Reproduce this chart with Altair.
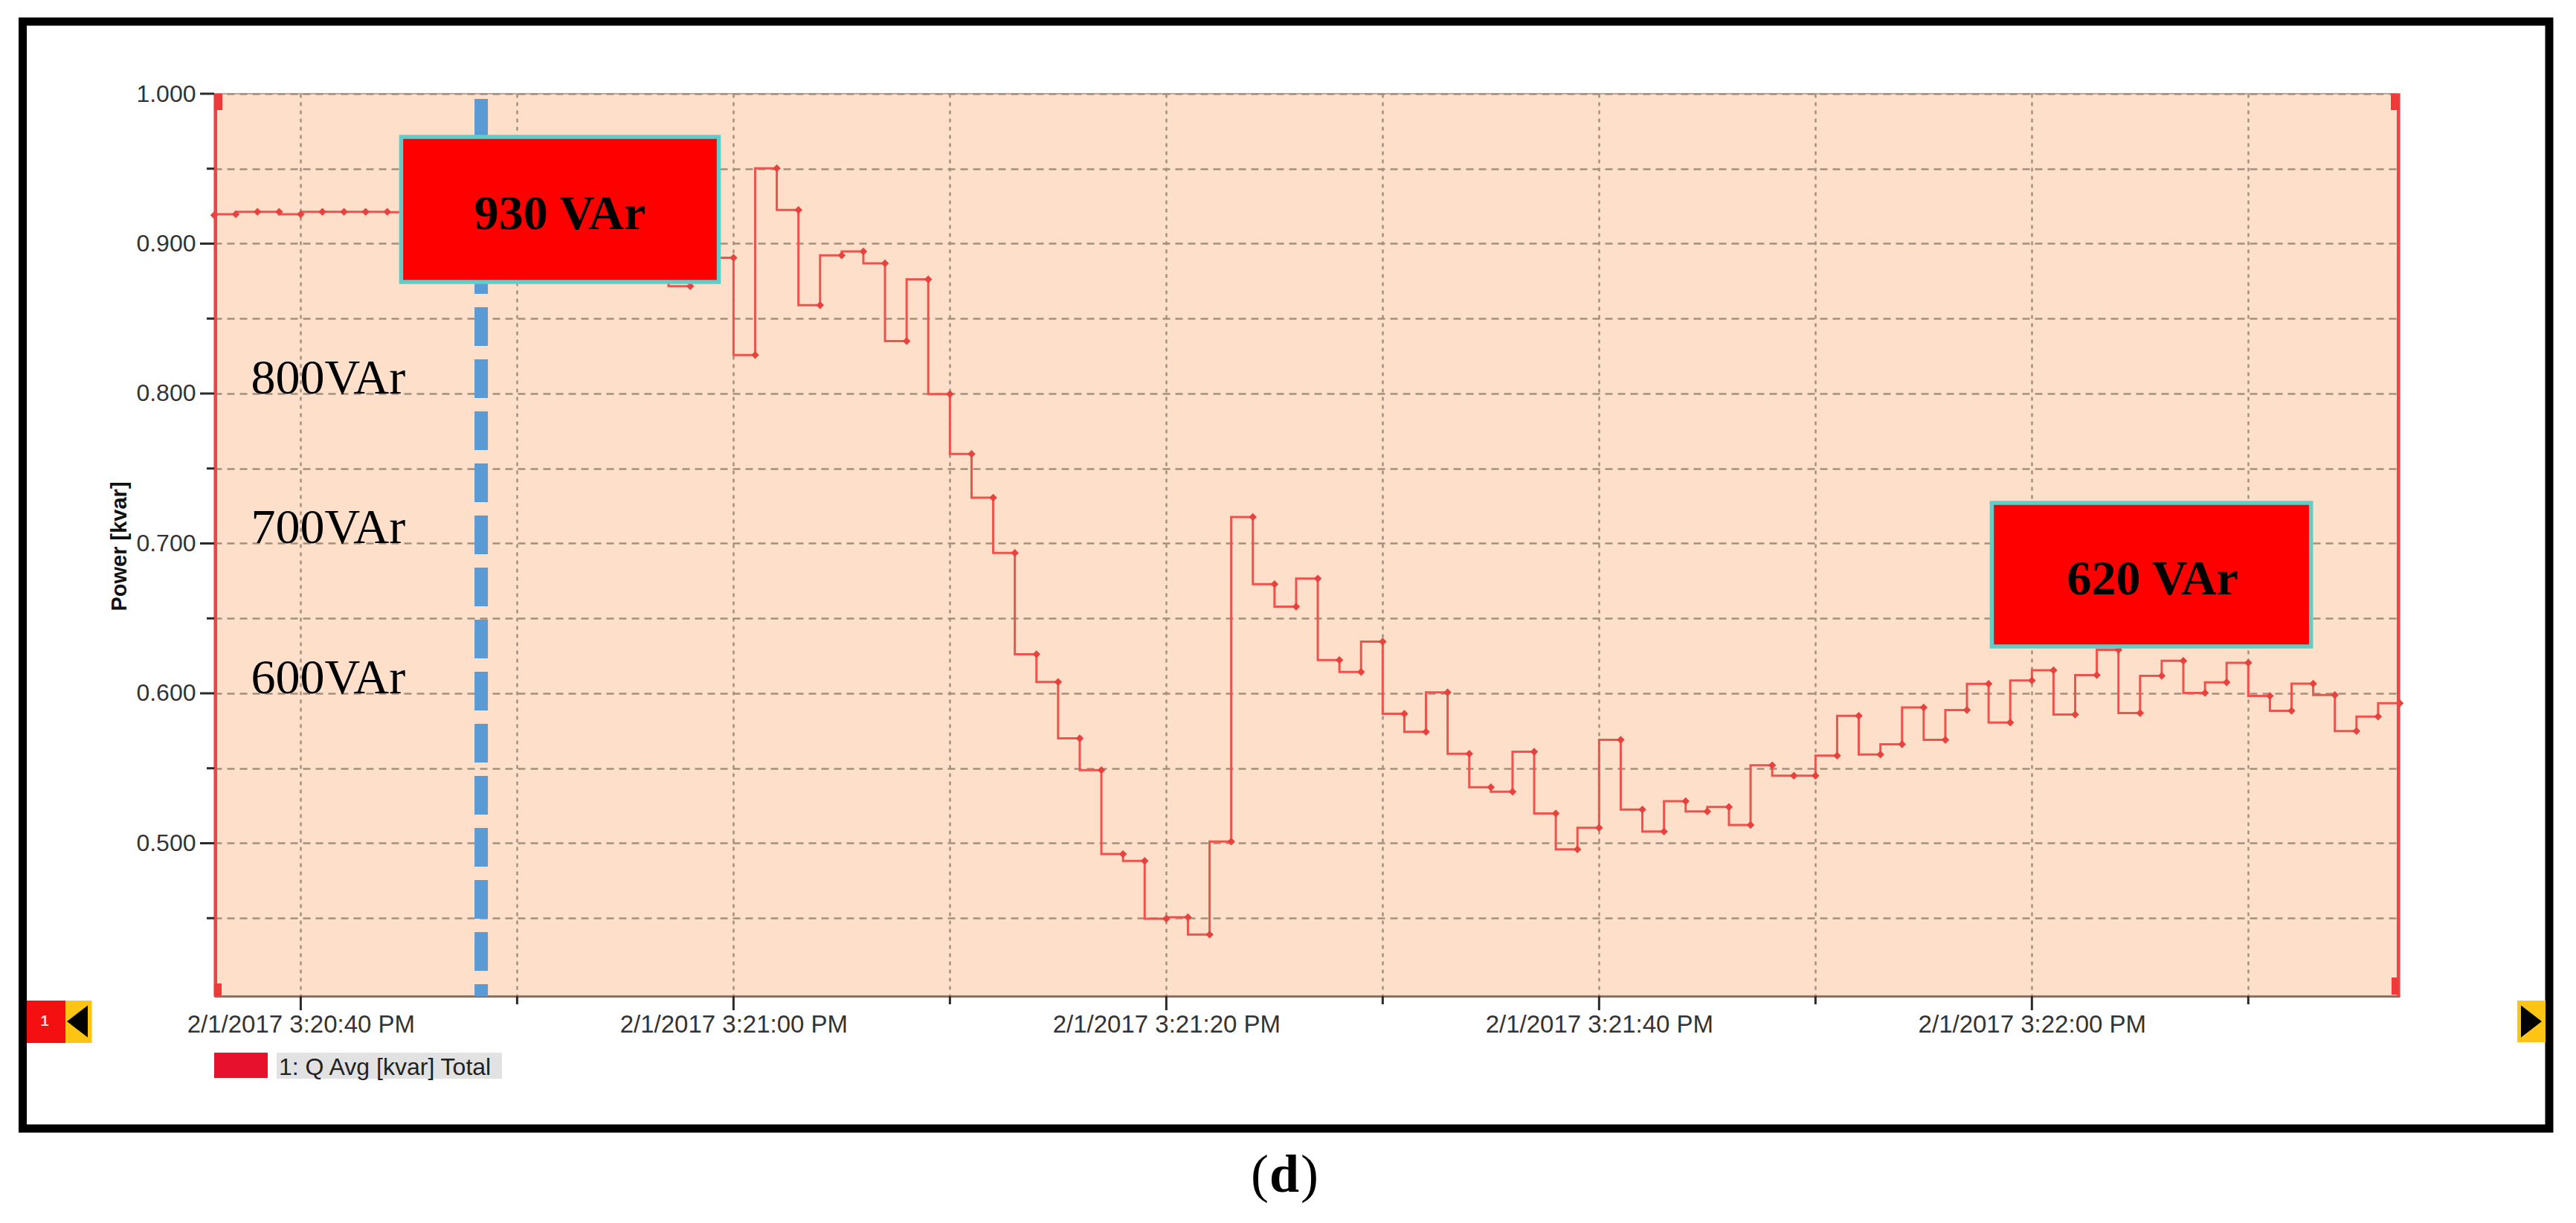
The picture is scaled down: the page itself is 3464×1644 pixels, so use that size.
import altair as alt
import pandas as pd

# ---------------- data ----------------
START = "2017-02-01T15:20:36"          # first sample, one sample per second
q_kvar = [
    0.919, 0.9196, 0.9212, 0.9212, 0.9196, 0.9212, 0.9212, 0.9212, 0.9212,
    0.921, 0.920, 0.921, 0.920, 0.918, 0.915, 0.912, 0.908, 0.905, 0.900,
    0.897, 0.893, 0.888, 0.8716, 0.888,
    0.8906, 0.8257, 0.9502, 0.9225, 0.8589, 0.8922, 0.8948, 0.8868, 0.835, 0.8762,
    0.7996, 0.7597, 0.7305, 0.6937, 0.6261, 0.6076, 0.570, 0.5488, 0.4928, 0.4882,
    0.4496, 0.4506, 0.4391, 0.5011, 0.7176, 0.6728, 0.6578, 0.6766, 0.6222, 0.6142,
    0.6345, 0.5864, 0.5743, 0.6006, 0.5597, 0.5373, 0.5343, 0.561, 0.5199, 0.4959,
    0.5103, 0.569, 0.5224, 0.5078, 0.528, 0.5212, 0.5242, 0.5121, 0.552, 0.545,
    0.545, 0.5584, 0.585, 0.5592, 0.566, 0.5906, 0.569, 0.5888, 0.6063, 0.5805,
    0.6086, 0.6154, 0.5858, 0.6121, 0.629, 0.5868, 0.6116, 0.6217, 0.6002, 0.6073,
    0.6204, 0.5982, 0.5883, 0.6065, 0.5989, 0.5748, 0.5845, 0.5934,
]
series_name = "1: Q Avg [kvar] Total"

x_domain = ["2017-02-01T15:20:36", "2017-02-01T15:22:17"]
y_domain = [0.398, 1.0]
x_label_ticks = ["2017-02-01T15:20:40", "2017-02-01T15:21:00", "2017-02-01T15:21:20",
                 "2017-02-01T15:21:40", "2017-02-01T15:22:00"]
x_minor_ticks = ["2017-02-01T15:20:50", "2017-02-01T15:21:10", "2017-02-01T15:21:30",
                 "2017-02-01T15:21:50", "2017-02-01T15:22:10"]
y_label_ticks = [0.5, 0.6, 0.7, 0.8, 0.9, 1.0]
y_minor_ticks = [0.45, 0.55, 0.65, 0.75, 0.85, 0.95]

# annotations
box_labels = ["930 VAr", "620 VAr"]
box_x0 = ["2017-02-01T15:20:44.640", "2017-02-01T15:21:58.150"]
box_x1 = ["2017-02-01T15:20:59.320", "2017-02-01T15:22:12.900"]
box_y0 = [0.9712, 0.727]
box_y1 = [0.8744, 0.6313]
box_text_x = ["2017-02-01T15:20:51.980", "2017-02-01T15:22:05.580"]
box_text_y = [0.9097, 0.666]
level_labels = ["800VAr", "700VAr", "600VAr"]
level_values = [0.8, 0.7, 0.6]
level_x = "2017-02-01T15:20:37.700"
marker_time = "2017-02-01T15:20:48.340"
marker_top = 0.9965

# ---------------- layout / style ----------------
W, H = 2939, 1213
BG = "#fddfca"
GRID = "#a2907f"
LINE = "#f0524d"
POINT = "#e8423e"
CURSOR = "#f04444"
TICK = "#2a2a2a"
SANS = "Liberation Sans"
SERIF = "Liberation Serif"


def dt(s):
    t = pd.Timestamp(s)
    return alt.DateTime(year=t.year, month=t.month, date=t.day, hours=t.hour,
                        minutes=t.minute, seconds=t.second,
                        milliseconds=t.microsecond // 1000)


times = pd.date_range(START, periods=len(q_kvar), freq="s").strftime("%Y-%m-%dT%H:%M:%S")
series = pd.DataFrame({"time": list(times), "q": q_kvar})

xs = alt.Scale(domain=[dt(x_domain[0]), dt(x_domain[1])], nice=False)
ys = alt.Scale(domain=y_domain, nice=False, zero=False)

x_axis = alt.Axis(
    values=[dt(s) for s in sorted(x_label_ticks + x_minor_ticks)],
    labelExpr="seconds(datum.value) % 20 == 0 ? timeFormat(datum.value, '%-m/%-d/%Y %-I:%M:%S %p') : ''",
    title=None, grid=True, gridDash=[5, 6], gridColor=GRID, gridWidth=2.5,
    ticks=False, tickSize=0, domain=True, domainColor="#8f7060", domainWidth=3,
    labelFont=SANS, labelFontSize=33, labelColor="#333333", labelPadding=22,
    labelOverlap=False, labelFlush=False, labelBound=False, labelLimit=1000,
)
y_axis = alt.Axis(
    values=sorted(y_label_ticks + y_minor_ticks),
    labelExpr="abs(datum.value*10 - round(datum.value*10)) < 0.01 ? format(datum.value, '.3f') : ''",
    title="Power [kvar]", titleX=-128, titleY=608, titleAngle=270, titleAlign="center",
    titleBaseline="middle", titleFont=SANS, titleFontSize=29, titleFontWeight="bold",
    titleColor="#111111", titleLimit=1000,
    grid=True, gridDash=[10, 7], gridColor=GRID, gridWidth=2.5,
    ticks=False, tickSize=0, domain=False,
    labelFont=SANS, labelFontSize=32, labelColor="#333333", labelPadding=25,
    labelOverlap=False, labelFlush=False, labelLimit=1000,
)


def X(field):
    return alt.X(field, scale=xs, axis=x_axis)


def Y(field):
    return alt.Y(field, scale=ys, axis=y_axis)


one = alt.Data(values=[{"k": 0}])


def prect(x0, x1, y0, y1, **kw):
    return alt.Chart(one).mark_rect(**kw).encode(
        x=alt.value(x0), x2=alt.value(x1), y=alt.value(y0), y2=alt.value(y1))


def ptext(x, y, text, **kw):
    return alt.Chart(one).mark_text(text=text, **kw).encode(x=alt.value(x), y=alt.value(y))


def pshape(x, y, shape, size, color):
    return alt.Chart(one).mark_point(shape=shape, size=size, filled=True, color=color,
                                     opacity=1).encode(x=alt.value(x), y=alt.value(y))


# outer black frame
frame = prect(-257.5, 3140, -97, 1391, fillOpacity=0, stroke="black", strokeWidth=11)

# legend
legend_bg = prect(84, 387, 1289, 1324, color="#e2e2e2")
legend_sw = prect(0, 72, 1289, 1323, color="#e8112d")
legend_tx = ptext(87, 1319, series_name, font=SANS, fontSize=32, color="#222222",
                  align="left", baseline="alphabetic")

# navigation buttons
nav_red = prect(-252, -200, 1219, 1276, color="#f41010")
nav_one = ptext(-228, 1247, "1", font=SANS, fontSize=20, fontWeight="bold",
                color="#f6dede", align="center", baseline="middle")
nav_yel_l = prect(-200, -164.5, 1219, 1276, color="#fdc414")
nav_tri_l = pshape(-184, 1247, "M0.65,-1L0.65,1L-0.65,0Z", 1849, "black")
nav_yel_r = prect(3097, 3135, 1219, 1275, color="#fdc414")
nav_tri_r = pshape(3116, 1247, "M-0.65,-1L-0.65,1L0.65,0Z", 1849, "black")

# caption "(d)"
cap_l = ptext(1418, 1476, "(", font=SERIF, fontSize=72, color="black", align="right",
              baseline="alphabetic")
cap_d = ptext(1439, 1476, "d", font=SERIF, fontSize=72, fontWeight="bold", color="black",
              align="center", baseline="alphabetic")
cap_r = ptext(1461, 1476, ")", font=SERIF, fontSize=72, color="black", align="left",
              baseline="alphabetic")

# main series
line = alt.Chart(series).mark_line(
    interpolate="step-before", color=LINE, strokeWidth=3,
    point=alt.OverlayMarkDef(shape="diamond", size=110, filled=True, color=POINT, opacity=1),
).encode(x=X("time:T"), y=Y("q:Q"))

# axis ticks (long for labelled values, short for the others)
xt_major = alt.Chart(pd.DataFrame({"time": x_label_ticks})).mark_rule(
    color=TICK, strokeWidth=3).encode(x=X("time:T"), y=alt.value(H), y2=alt.value(H + 19))
xt_minor = alt.Chart(pd.DataFrame({"time": x_minor_ticks})).mark_rule(
    color=TICK, strokeWidth=3).encode(x=X("time:T"), y=alt.value(H), y2=alt.value(H + 11))
yt_major = alt.Chart(pd.DataFrame({"q": y_label_ticks})).mark_rule(
    color=TICK, strokeWidth=3).encode(y=Y("q:Q"), x=alt.value(-19), x2=alt.value(0))
yt_minor = alt.Chart(pd.DataFrame({"q": y_minor_ticks})).mark_rule(
    color=TICK, strokeWidth=3).encode(y=Y("q:Q"), x=alt.value(-10), x2=alt.value(0))

# blue dashed marker line
blue = alt.Chart(pd.DataFrame({"time": [marker_time], "q": [marker_top],
                               "q_end": [y_domain[0]]})).mark_rule(
    color="#5b9bd5", strokeWidth=18, strokeDash=[52, 18], strokeCap="butt").encode(
    x=X("time:T"), y=Y("q:Q"), y2="q_end:Q")

# red value boxes
boxes_df = pd.DataFrame({"time": box_x0, "time_end": box_x1, "q": box_y0, "q_end": box_y1})
boxes = alt.Chart(boxes_df).mark_rect(color="#ff0000", stroke="#5fcdc8", strokeWidth=5.5).encode(
    x=X("time:T"), x2="time_end:T", y=Y("q:Q"), y2="q_end:Q")
box_text = alt.Chart(pd.DataFrame({"time": box_text_x, "q": box_text_y, "label": box_labels})).mark_text(
    font=SERIF, fontSize=66, fontWeight="bold", color="black", align="center",
    baseline="alphabetic").encode(x=X("time:T"), y=Y("q:Q"), text="label:N")

levels = alt.Chart(pd.DataFrame({"time": [level_x] * 3, "q": level_values, "label": level_labels})).mark_text(
    font=SERIF, fontSize=66, color="black", align="left", baseline="alphabetic").encode(
    x=X("time:T"), y=Y("q:Q"), text="label:N")

# red cursor lines at both edges of the plot, with their small tabs
cur_l = alt.Chart(one).mark_rule(color=CURSOR, strokeWidth=4).encode(
    x=alt.value(2), y=alt.value(0), y2=alt.value(H))
cur_r = alt.Chart(one).mark_rule(color=CURSOR, strokeWidth=4).encode(
    x=alt.value(W - 2), y=alt.value(0), y2=alt.value(H))
tab_lt = prect(0, 11, 0, 22, color="#ef3a3a")
tab_lb = prect(0, 10, H - 17, H, color="#ef3a3a")
tab_rt = prect(W - 12, W, 0, 22, color="#ef3a3a")
tab_rb = prect(W - 11, W - 2, H - 25, H - 2, color="#ef3a3a")

chart = alt.layer(
    frame, legend_bg, legend_sw, legend_tx,
    nav_red, nav_one, nav_yel_l, nav_tri_l, nav_yel_r, nav_tri_r,
    cap_l, cap_d, cap_r,
    line, xt_major, xt_minor, yt_major, yt_minor,
    blue, boxes, box_text, levels,
    cur_l, cur_r, tab_lt, tab_lb, tab_rt, tab_rb,
).properties(
    width=W, height=H,
    autosize=alt.AutoSizeParams(type="none"),
    padding={"left": 280, "top": 118, "right": 215, "bottom": 285},
).configure_view(fill=BG, stroke="#c4a592", strokeWidth=2)

chart.save("out.html", embed_options={"renderer": "svg", "actions": False})
